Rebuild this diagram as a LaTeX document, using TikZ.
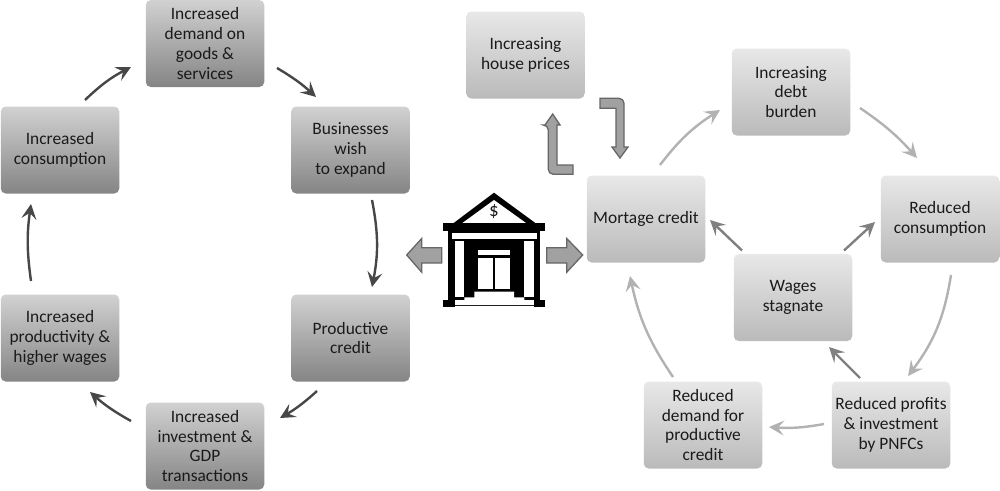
\documentclass[tikz,border=0pt]{standalone}
\usepackage{fontspec}
\setmainfont{Carlito}
\usetikzlibrary{arrows.meta}
\definecolor{txt}{HTML}{1A1A1A}
\tikzset{
  x=1pt,y=-1pt,
  boxbase/.style={rounded corners=5pt,minimum width=118.5pt,minimum height=87pt,inner sep=1pt,align=center,text=txt,
    font=\fontsize{17.4}{19.8}\selectfont,line width=0pt},
  darkbox/.style={boxbase,top color=black!18,bottom color=black!48},
  lightbox/.style={boxbase,top color=black!9,bottom color=black!27},
  arr/.style={line width=2.4pt,-{Stealth[length=15pt,width=15pt,inset=6pt]}},
  darkarr/.style={arr,draw=black!72},
  lightarr/.style={arr,draw=black!30},
  midarr/.style={arr,draw=black!50},
  blockarr/.style={fill=black!37,draw=black!60,line width=1.3pt,line join=miter},
}
\begin{document}
\begin{tikzpicture}
\useasboundingbox (0,0) rectangle (1000,490);
% left cycle
\node[darkbox] (top)  at (205,43.5) {Increased\\demand on\\goods \&\\services};
\node[darkbox] (biz)  at (350.5,150) {Businesses\\wish\\to expand};
\node[darkbox] (cons) at (60,150) {Increased\\consumption};
\node[darkbox] (prod) at (350.5,338) {Productive\\credit};
\node[darkbox] (hig)  at (60,338) {Increased\\productivity \&\\higher wages};
\node[darkbox] (inv)  at (205,446) {Increased\\investment \&\\GDP\\transactions};
% right cycle
\node[lightbox] (house) at (525.5,55) {Increasing\\house prices};
\node[lightbox] (debt)  at (791,92) {Increasing\\debt\\burden};
\node[lightbox] (mort)  at (646,219) {Mortage credit};
\node[lightbox] (rcons) at (940,219) {Reduced\\consumption};
\node[lightbox] (wage)  at (793,297.5) {Wages\\stagnate};
\node[lightbox] (rdem)  at (703,425) {Reduced\\demand for\\productive\\credit};
\node[lightbox] (rprof) at (891,425) {Reduced profits\\\& investment\\by PNFCs};
% left connectors
\draw[darkarr] ([shift={(25,-50)}]cons.center) to[bend left=8] ([shift={(-74,23.5)}]top.center);
\draw[darkarr] ([shift={(72,24.5)}]top.center) to[bend left=6] ([shift={(-34.5,-53)}]biz.center);
\draw[darkarr] ([shift={(21.5,50)}]biz.center) to[bend left=11] ([shift={(21.5,-51)}]prod.center);
\draw[darkarr] ([shift={(-33.5,53)}]prod.center) to[bend left=6] ([shift={(75,-28)}]inv.center);
\draw[darkarr] ([shift={(-74,-25)}]inv.center) to[bend left=6] ([shift={(30,54)}]hig.center);
\draw[darkarr] ([shift={(-29,-57)}]hig.center) to[bend left=8] ([shift={(-29,54)}]cons.center);
% right connectors
\draw[lightarr] ([shift={(14,-54)}]mort.center) to[bend left=10] ([shift={(-71,18)}]debt.center);
\draw[lightarr] ([shift={(69,16)}]debt.center) to[bend left=7] ([shift={(-23,-61)}]rcons.center);
\draw[lightarr] ([shift={(11,56)}]rcons.center) to[bend left=14] ([shift={(17,-49)}]rprof.center);
\draw[lightarr] ([shift={(-67,-1)}]rprof.center) to[bend left=7] ([shift={(66,2)}]rdem.center);
\draw[lightarr] ([shift={(-30,-48)}]rdem.center) to[bend left=11] ([shift={(-16,57)}]mort.center);
\draw[midarr] ([shift={(-51,-47)}]wage.center) -- ([shift={(64,1)}]mort.center);
\draw[midarr] ([shift={(51,-47)}]wage.center) -- ([shift={(-65,3)}]rcons.center);
\draw[midarr] ([shift={(-31,-47)}]rprof.center) -- ([shift={(36,49.5)}]wage.center);
% block arrows
\path[blockarr] (406.7,255) -- (421.7,238.5) -- (421.7,247.7) -- (441.7,247.7) -- (441.7,263) -- (421.7,263) -- (421.7,272.2) -- cycle;
\path[blockarr] (582.7,255) -- (566.7,238.5) -- (566.7,247.7) -- (546.7,247.7) -- (546.7,263) -- (566.7,263) -- (566.7,272.2) -- cycle;
\path[blockarr] (552.7,114) -- (560,125) -- (557,125) -- (557,165) -- (573,165) -- (573,174.3) -- (554,174.3) [rounded corners=5pt] -- (548.3,174.3) -- (548.3,125) [sharp corners] -- (545,125) -- cycle;
\path[blockarr] (620,158) -- (628,147) -- (624,147) [rounded corners=5pt] -- (624,98.3) [sharp corners] -- (600,98.3) -- (600,108.3) -- (616,108.3) -- (616,147) -- (612,147) -- cycle;
% bank
\fill[black] (494,192.7) -- (536,223.5) -- (453,223.5) -- cycle;
\fill[white] (494,200) -- (526.7,223.5) -- (461.7,223.5) -- cycle;
\node[inner sep=0pt,text=txt,font=\fontsize{19}{19}\selectfont] (dollar) at (494,212) {\$};
\fill[black] (443.3,223.3) rectangle (545.3,230.7);
\fill[black] (448.3,230) rectangle (540,306);
\fill[white] (451.7,232.7) rectangle (536.7,238.7);
\fill[white] (455,240.7) rectangle (464.3,297.3);
\fill[white] (524.3,240.7) rectangle (534,297.3);
\fill[white] (478.3,250) rectangle (510,254.7);
\fill[white] (478.3,258.3) rectangle (492.5,289);
\fill[white] (495.3,258.3) rectangle (510,289);
\fill[white] (474.3,291.7) -- (514,291.7) -- (514,297.3) -- (524.3,297.3) -- (524.3,300) -- (534,300) -- (534,305) -- (455,305) -- (455,300) -- (464.3,300) -- (464.3,297.3) -- (474.3,297.3) -- cycle;
\fill[black] (443.3,299.5) rectangle (455,306.5);
\fill[black] (534,299.5) rectangle (545.3,306.5);
\end{tikzpicture}
\end{document}
